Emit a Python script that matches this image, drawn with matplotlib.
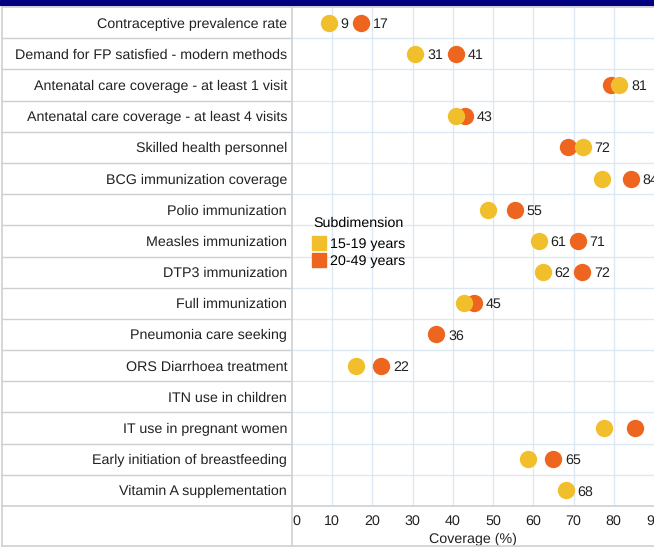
import matplotlib
matplotlib.use("Agg")
import matplotlib.pyplot as plt
from matplotlib.lines import Line2D
import numpy as np

plt.rcParams['font.family'] = ['Liberation Sans', 'DejaVu Sans']
plt.rcParams['text.hinting'] = 'no_hinting'

categories = [
    "Contraceptive prevalence rate",
    "Demand for FP satisfied - modern methods",
    "Antenatal care coverage - at least 1 visit",
    "Antenatal care coverage - at least 4 visits",
    "Skilled health personnel",
    "BCG immunization coverage",
    "Polio immunization",
    "Measles immunization",
    "DTP3 immunization",
    "Full immunization",
    "Pneumonia care seeking",
    "ORS Diarrhoea treatment",
    "ITN use in children",
    "IT use in pregnant women",
    "Early initiation of breastfeeding",
    "Vitamin A supplementation",
]
nan = np.nan
young = [9.2, 30.7, 81.4, 40.8, 72.3, 77.0, 48.8, 61.4, 62.3, 42.7, nan, 15.9, nan, 77.6, 58.7, 68.0]
old = [17.2, 40.8, 79.2, 43.0, 68.5, 84.2, 55.4, 71.0, 72.2, 45.3, 35.9, 22.2, nan, 85.4, 65.0, nan]
# which values carry a data label in the original
label_young = [1, 1, 1, 0, 1, 0, 0, 1, 1, 0, 0, 0, 0, 0, 0, 1]
label_old = [1, 1, 0, 1, 0, 1, 1, 1, 1, 1, 1, 1, 0, 0, 1, 0]
series_names = ["15-19 years", "20-49 years"]
c_young = "#F2BF2C"
c_old = "#EE6520"
fs = 10.3

W, H = 654, 547
fig = plt.figure(figsize=(W / 100, H / 100), dpi=100)

x0, x1 = 292, 654
ytop, ybot = 7, 506
ax = fig.add_axes([x0 / W, 1 - ybot / H, (x1 - x0) / W, (ybot - ytop) / H])
n = len(categories)
ypos = np.arange(n)
ax.set_ylim(n - 0.5, -0.5)
ax.set_xlim(0, 90)

grid_c = "#dce8f4"
for v in range(10, 90, 10):
    ax.axvline(v, color=grid_c, lw=1, zorder=0)
for k in range(n - 1):
    ax.axhline(k + 0.5, color=grid_c, lw=1, zorder=0)
for s in ax.spines.values():
    s.set_visible(False)
ax.set_yticks([])
ax.set_xticks(range(0, 100, 10))
ax.tick_params(axis="x", length=0, pad=6, labelsize=fs, colors="#222222")
ax.get_xticklabels()[0].set_horizontalalignment("left")
ax.set_xlabel("Coverage (%)", fontsize=fs, color="#222222", labelpad=4)

ax.plot(old, ypos, "o", ms=12.5, color=c_old, mec="none", zorder=3)
ax.plot(young, ypos, "o", ms=12.5, color=c_young, mec="none", zorder=4)

for vals, flags in ((young, label_young), (old, label_old)):
    for i, (v, f) in enumerate(zip(vals, flags)):
        if f and not np.isnan(v):
            ax.annotate(f"{round(v)}", (v, i), xytext=(8.5, 0), textcoords="offset points",
                        va="center_baseline", ha="left", fontsize=fs, color="#222222",
                        annotation_clip=False, zorder=5)

handles = [Line2D([], [], ls="none", marker="s", ms=10, color=c_young),
           Line2D([], [], ls="none", marker="s", ms=10, color=c_old)]
leg = ax.legend(handles, series_names, title="Subdimension", loc="upper left",
                bbox_to_anchor=(0.03, 0.60), frameon=False, fontsize=fs,
                title_fontsize=fs, handlelength=0.8, handletextpad=0.4,
                labelspacing=0.3, borderpad=0.2)
leg._legend_box.align = "left"
leg._legend_box.sep = 6

# label column, drawn as a table with gray borders
gray = "#cfcfcf"
lab = fig.add_axes([2 / W, 1 - ybot / H, (x0 - 2) / W, (ybot - ytop) / H])
lab.set_xlim(0, 1)
lab.set_ylim(n - 0.5, -0.5)
lab.axis("off")
for k in range(n - 1):
    lab.axhline(k + 0.5, color=gray, lw=1)
for i, c in enumerate(categories):
    lab.text(0.983, i, c, ha="right", va="center_baseline", fontsize=fs, color="#222222")

# outer table lines
def fline(xs, ys):
    fig.add_artist(Line2D([x / W for x in xs], [1 - y / H for y in ys], color=gray, lw=1.2))

fline([2, W], [ytop, ytop])
fline([2, W], [ybot, ybot])
fline([2, W], [H - 1.5, H - 1.5])
fline([2, 2], [ytop, H - 1])
fline([x0, x0], [ytop, H - 1])

# navy header bar
fig.add_artist(plt.Rectangle((0, 1 - 5 / H), 1, 5 / H, color="#000080",
                             transform=fig.transFigure))

fig.savefig("out.png", dpi=100)
